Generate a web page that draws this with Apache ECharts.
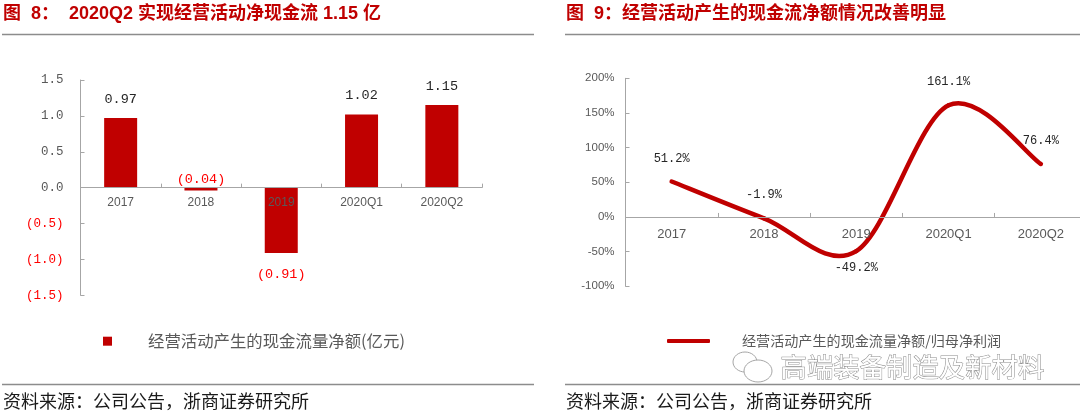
<!DOCTYPE html>
<html><head><meta charset="utf-8">
<style>html,body{margin:0;padding:0;background:#fff}#c{width:1080px;height:414px}</style>
<script src="https://cdn.jsdelivr.net/npm/echarts@6/dist/echarts.min.js"></script>
</head><body><div id="c"></div>
<script>
const categories = ['2017','2018','2019','2020Q1','2020Q2'];
const cashFlow = [0.97,-0.04,-0.91,1.02,1.15];
const cashRatio = [51.2,-1.9,-49.2,161.1,76.4];
const titleLeft = '图  8：  2020Q2 实现经营活动净现金流 1.15 亿';
const titleRight = '图  9：经营活动产生的现金流净额情况改善明显';
const legendLeft = '经营活动产生的现金流量净额(亿元)';
const legendRight = '经营活动产生的现金流量净额/归母净利润';
const sourceText = '资料来源：公司公告，浙商证券研究所';
const watermark = '高端装备制造及新材料';

const RED='#C00000', GREY='#595959', AXIS='#A6A6A6', CJK='"Noto Sans CJK SC"', MONO='"Liberation Mono"', SANS='"Liberation Sans"';
const paren = v => v<0 ? '('+Math.abs(v).toFixed(1)+')' : v.toFixed(1);
const paren2 = v => v<0 ? '('+Math.abs(v).toFixed(2)+')' : v.toFixed(2);

function xAxis(i,size,margin){return {type:'category',gridIndex:i,data:categories,
  axisLine:{onZero:true,lineStyle:{color:AXIS,width:1}},
  axisTick:{show:true,inside:true,length:4,alignWithLabel:false,lineStyle:{color:AXIS}},
  axisLabel:{color:GREY,fontSize:size,fontFamily:SANS,margin:margin,interval:0},z:5};}

function catmull(params,api){
  const i=params.dataIndexInside, n=cashRatio.length;
  if(i>=n-1) return;
  const p=k=>api.coord([Math.max(0,Math.min(n-1,k)),cashRatio[Math.max(0,Math.min(n-1,k))]]);
  const a=p(i-1),b=p(i),c=p(i+1),d=p(i+2);
  return {type:'bezierCurve',shape:{x1:b[0],y1:b[1],x2:c[0],y2:c[1],
    cpx1:b[0]+(c[0]-a[0])/6,cpy1:b[1]+(c[1]-a[1])/6,
    cpx2:c[0]-(d[0]-b[0])/6,cpy2:c[1]-(d[1]-b[1])/6},
    style:{stroke:RED,lineWidth:4.5,fill:null,lineCap:'round'}};
}

const chart=echarts.init(document.getElementById('c'),null,{renderer:'canvas'});
chart.setOption({
  animation:false,backgroundColor:'#fff',
  title:[
    {text:titleLeft,left:3,top:5,padding:0,textStyle:{color:RED,fontSize:18,fontWeight:'bold',fontFamily:SANS+','+CJK}},
    {text:titleRight,left:566,top:5,padding:0,textStyle:{color:RED,fontSize:18,fontWeight:'bold',fontFamily:SANS+','+CJK}},
    {text:sourceText,left:3,top:392,padding:0,textStyle:{color:'#1a1a1a',fontSize:18,fontWeight:'normal',fontFamily:CJK}},
    {text:sourceText,left:566,top:392,padding:0,textStyle:{color:'#1a1a1a',fontSize:18,fontWeight:'normal',fontFamily:CJK}}
  ],
  grid:[
    {left:80.5,top:80,width:401.5,height:215.3,outerBoundsMode:'none'},
    {left:625.5,top:78.3,width:461.5,height:208,outerBoundsMode:'none'}
  ],
  xAxis:[xAxis(0,12,-99),xAxis(1,13,-58)],
  yAxis:[
    {type:'value',gridIndex:0,min:-1.5,max:1.5,interval:0.5,splitLine:{show:false},
     axisLine:{show:true,lineStyle:{color:AXIS}},axisTick:{show:true,inside:true,length:4,lineStyle:{color:AXIS}},
     axisLabel:{fontSize:12.5,fontFamily:MONO,margin:17,formatter:paren,
       color:v=>Number(v)<0?'#FF0000':GREY}},
    {type:'value',gridIndex:1,min:-100,max:200,interval:50,splitLine:{show:false},
     axisLine:{show:true,lineStyle:{color:AXIS}},axisTick:{show:true,inside:true,length:4,lineStyle:{color:AXIS}},
     axisLabel:{fontSize:11.5,fontFamily:SANS,margin:11,color:GREY,formatter:'{value}%'}}
  ],
  legend:[
    {data:[{name:legendLeft,icon:'rect'}],left:103,top:333,itemWidth:9,itemHeight:9,padding:0,
     textStyle:{color:GREY,fontSize:16.4,fontFamily:CJK,padding:[0,0,0,31]}},
    {data:[{name:legendRight,icon:'roundRect'}],left:667,top:334,itemWidth:43,itemHeight:4,padding:0,
     textStyle:{color:GREY,fontSize:14.1,fontFamily:CJK,padding:[0,0,0,27]}}
  ],
  series:[
    {name:legendLeft,type:'bar',xAxisIndex:0,yAxisIndex:0,barWidth:33,itemStyle:{color:RED},z:2,
     data:cashFlow.map(v=>({value:v,label:{show:true,
        position:v<-0.5?'bottom':'top',distance:v<0?(v<-0.5?14:1):12,
        color:v<0?'#FF0000':'#262626',fontSize:13.5,fontFamily:MONO,
        formatter:p=>paren2(p.value)}}))},
    {name:legendRight,type:'custom',coordinateSystem:'cartesian2d',xAxisIndex:1,yAxisIndex:1,
     itemStyle:{color:RED},renderItem:catmull,clip:false,
     data:cashRatio.map((v,i)=>[i,v]),z:3},
    {name:'labels',type:'line',xAxisIndex:1,yAxisIndex:1,symbol:'circle',symbolSize:0,showSymbol:true,showAllSymbol:true,lineStyle:{opacity:0},z:4,
     data:cashRatio.map((v,i)=>({value:v,label:{show:true,position:i===2?'bottom':'top',distance:i===2?11:17,
       color:'#262626',fontSize:12,fontFamily:MONO,formatter:p=>p.value.toFixed(1)+'%'}}))}
  ],
  graphic:[
    {type:'line',shape:{x1:2,y1:34.5,x2:534,y2:34.5},style:{stroke:'#8c8c8c',lineWidth:1.5},silent:true},
    {type:'line',shape:{x1:565,y1:34.5,x2:1080,y2:34.5},style:{stroke:'#8c8c8c',lineWidth:1.5},silent:true},
    {type:'line',shape:{x1:2,y1:384.5,x2:534,y2:384.5},style:{stroke:'#8c8c8c',lineWidth:1.5},silent:true},
    {type:'line',shape:{x1:565,y1:384.5,x2:1080,y2:384.5},style:{stroke:'#8c8c8c',lineWidth:1.5},silent:true},
    {type:'ellipse',shape:{cx:745,cy:362,rx:12,ry:10},style:{fill:'#fff',stroke:'#a6a6a6',lineWidth:1},silent:true},
    {type:'ellipse',shape:{cx:758,cy:371,rx:14,ry:11},style:{fill:'#fff',stroke:'#a6a6a6',lineWidth:1},silent:true},
    {type:'text',left:780,top:353,style:{text:watermark,fill:'#ffffff',stroke:'#8c8c8c',lineWidth:1,fontSize:26.4,fontFamily:CJK},silent:true,z:10}
  ]
});
</script></body></html>
